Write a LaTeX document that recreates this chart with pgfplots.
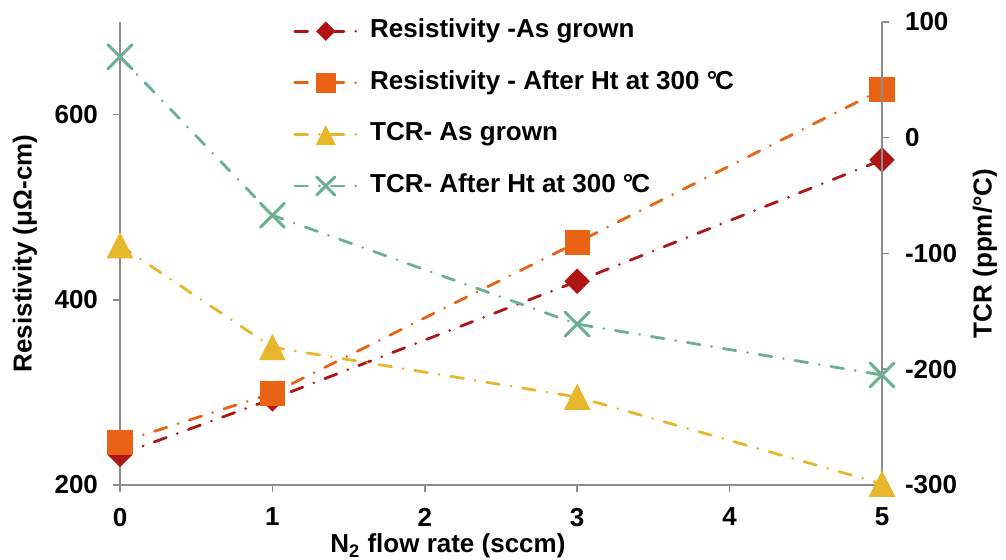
\documentclass[border=0pt]{standalone}
\usepackage{fontspec}
\setmainfont{Liberation Sans}
\usepackage{pgfplots}
\pgfplotsset{compat=1.18}
\definecolor{cRa}{RGB}{176,21,21}
\definecolor{cRh}{RGB}{234,98,19}
\definecolor{cTa}{RGB}{232,182,42}
\definecolor{cTh}{RGB}{107,176,145}
\definecolor{axgray}{RGB}{140,140,140}
\newcommand{\chartfont}{\fontsize{13}{15.6}\selectfont\bfseries}
\pgfplotsset{
  base/.style={
    width=381pt, height=231.5pt, scale only axis,
    xmin=0, xmax=5,
    tick align=outside, major tick length=3.5pt,
    every tick/.style={axgray, line width=0.75pt},
    axis line style={axgray, line width=0.75pt},
    tick label style={font=\chartfont},
    label style={font=\chartfont},
    /pgf/number format/assume math mode=true,
    clip=false,
  },
  dd/.style={line width=1.4pt, line cap=round, dash pattern=on 6.4pt off 5.9pt on 0pt off 5.9pt},
}
\begin{document}
\begin{tikzpicture}
\useasboundingbox (-60pt,-37.5pt) rectangle (443pt,242.5pt);
\begin{axis}[base,
  ymin=200, ymax=700, ytick={200,400,600}, xtick={0,1,2,3,4,5},
  axis x line*=bottom, axis y line*=left,
  yticklabel style={xshift=-4pt},
  xticklabel style={yshift=-4.5pt},
  ylabel={Resistivity (μΩ-cm)},
  ylabel style={at={(axis description cs:-0.1247,0.5)}, anchor=center},
  xlabel={N\textsubscript{2} flow rate (sccm)},
  xlabel style={at={(axis description cs:0.4304,-0.1462)}, anchor=base},
]
\addplot[dd, cRa, mark=square*, mark size=4.3pt, mark options={solid, rotate=45, line width=0.4pt, fill=cRa}]
  coordinates {(0,233) (1,293) (3,420) (5,551)};
\addplot[dd, cRh, mark=square*, mark size=6.1pt, mark options={solid, line width=0.4pt, fill=cRh}]
  coordinates {(0,246) (1,299) (3,462) (5,627)};
\end{axis}
\begin{axis}[base,
  ymin=-300, ymax=100, ytick={-300,-200,-100,0,100},
  axis x line=none, axis y line*=right,
  yticklabel style={xshift=4.5pt},
  ylabel={TCR (ppm/°C)},
  ylabel style={at={(axis description cs:1.1352,0.5)}, anchor=center},
  legend style={at={(axis description cs:0.227,1)}, anchor=north west, yshift=1.85pt,
    draw=none, fill=none, inner sep=0pt, row sep=13.3pt, column sep=6pt,
    nodes={inner sep=0pt, text height=9.5pt, text depth=3pt, font=\chartfont},
    cells={anchor=west}},
  legend image code/.code={\draw[mark repeat=2,mark phase=2, every mark/.append style={scale=0.75}] plot coordinates {(0pt,0pt) (15.5pt,0pt) (31pt,0pt)};},
]
\addlegendimage{dd, cRa, mark=square*, mark size=4.3pt, mark options={solid, rotate=45, line width=0.4pt, fill=cRa}}
\addlegendentry{Resistivity -As grown}
\addlegendimage{dd, cRh, mark=square*, mark size=6.1pt, mark options={solid, line width=0.4pt, fill=cRh}}
\addlegendentry{Resistivity - After Ht at 300 °\kern-0.08em C}
\addplot[dd, cTa, mark=triangle*, mark size=7.3pt, mark options={solid, line width=0.4pt, fill=cTa, yshift=-2.1pt, yscale=1.14}]
  coordinates {(0,-93) (1,-181) (3,-224) (5,-299)};
\addlegendentry{TCR- As grown}
\addplot[dd, cTh, mark=x, mark size=8.5pt, mark options={solid, line width=1.5pt}]
  coordinates {(0,70) (1,-67) (3,-161) (5,-205)};
\addlegendentry{TCR- After Ht at 300 °\kern-0.08em C}
\end{axis}
\end{tikzpicture}
\end{document}
